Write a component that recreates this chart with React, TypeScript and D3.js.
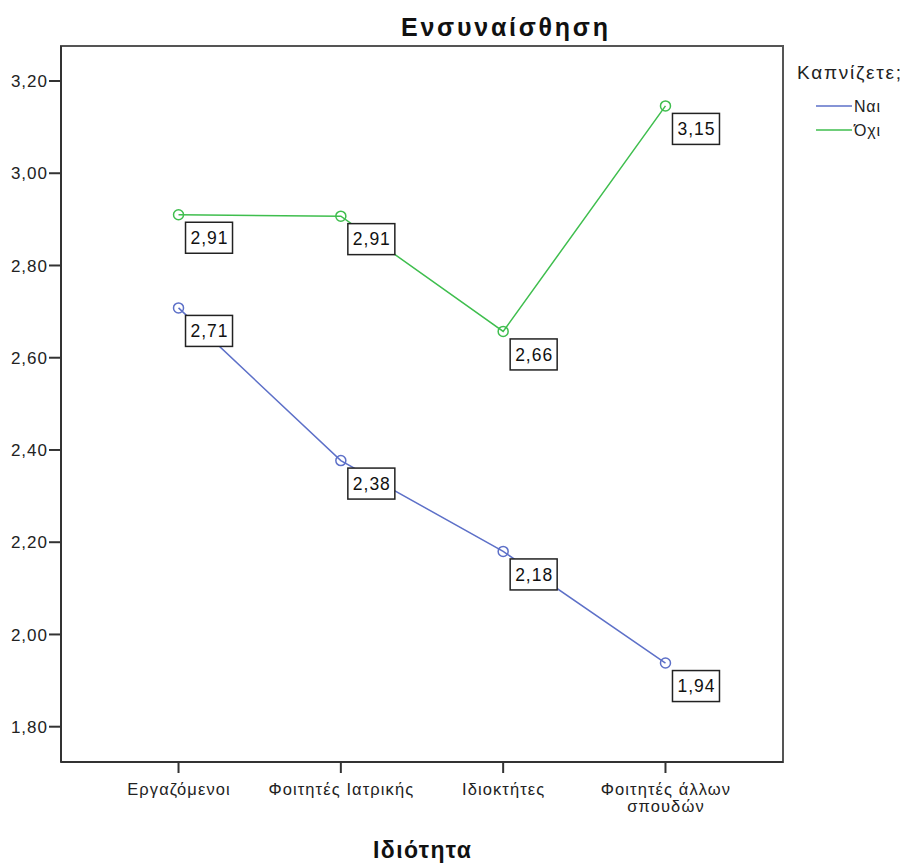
import React from "react";
import * as d3 from "d3";

const categories = ["Εργαζόμενοι", "Φοιτητές Ιατρικής", "Ιδιοκτήτες", "Φοιτητές άλλων σπουδών"];
const categoryLines = [["Εργαζόμενοι"], ["Φοιτητές Ιατρικής"], ["Ιδιοκτήτες"], ["Φοιτητές άλλων", "σπουδών"]];
const seriesNames = ["Ναι", "Όχι"];
const naiValues = [2.708, 2.377, 2.18, 1.938];
const oxiValues = [2.91, 2.907, 2.657, 3.146];
const yTicks = [1.8, 2.0, 2.2, 2.4, 2.6, 2.8, 3.0, 3.2];
const colors = ["#5d70c8", "#3fbe4e"];
const title = "Ενσυναίσθηση";
const xTitle = "Ιδιότητα";
const legendTitle = "Καπνίζετε;";

const W = 904;
const H = 863;
const left = 61;
const right = 783;
const top = 46;
const bottom = 762;
const font = "'Liberation Sans', Arial, sans-serif";

const fmt = (v: number) => v.toFixed(2).replace(".", ",");

export default function App() {
  const x = d3.scalePoint<string>().domain(categories).range([left, right]).padding(0.724);
  const y = d3.scaleLinear().domain([1.8, 3.2]).range([726.7, 81]);
  const series = [naiValues, oxiValues];
  const line = d3
    .line<number>()
    .x((_, i) => x(categories[i]) as number)
    .y((d) => y(d));

  return (
    <div style={{ position: "absolute", left: 0, top: 0 }}>
      <svg width={W} height={H} style={{ display: "block", background: "#fff" }}>
        <rect x={0} y={0} width={W} height={H} fill="#fff" />
        <text
          x={401}
          y={36}
          textLength={207}
          lengthAdjust="spacing"
          fontFamily={font}
          fontWeight="bold"
          fontSize={25}
          fill="#111"
        >
          {title}
        </text>
        {/* frame */}
        <rect x={left} y={top} width={right - left} height={bottom - top} fill="none" stroke="#555" strokeWidth={2} />
        <line x1={left} y1={top} x2={left} y2={bottom} stroke="#333" strokeWidth={2} />
        <line x1={left} y1={bottom} x2={right} y2={bottom} stroke="#333" strokeWidth={2} />
        {/* y ticks */}
        {yTicks.map((t) => (
          <g key={t}>
            <line x1={left - 12} x2={left} y1={y(t)} y2={y(t)} stroke="#333" strokeWidth={2} />
            <text
              x={left - 13}
              y={y(t)}
              dy="0.36em"
              textAnchor="end"
              fontFamily={font}
              fontSize={17}
              letterSpacing={1}
              fill="#222"
            >
              {fmt(t)}
            </text>
          </g>
        ))}
        {/* x ticks */}
        {categories.map((c, i) => (
          <g key={c}>
            <line x1={x(c)} x2={x(c)} y1={bottom} y2={bottom + 11} stroke="#333" strokeWidth={2} />
            {categoryLines[i].map((ln, j) => (
              <text
                key={j}
                x={(x(c) as number) + 0.5}
                y={795 + j * 17}
                textAnchor="middle"
                fontFamily={font}
                fontSize={16.5}
                letterSpacing={1.1}
                fill="#222"
              >
                {ln}
              </text>
            ))}
          </g>
        ))}
        <text
          x={373}
          y={858}
          textLength={98}
          lengthAdjust="spacing"
          fontFamily={font}
          fontWeight="bold"
          fontSize={23}
          fill="#111"
        >
          {xTitle}
        </text>
        {/* lines */}
        {series.map((vals, si) => (
          <g key={si}>
            <path d={line(vals) || ""} fill="none" stroke={colors[si]} strokeWidth={1.5} />
            {vals.map((v, i) => (
              <circle key={i} cx={x(categories[i])} cy={y(v)} r={5} fill="none" stroke={colors[si]} strokeWidth={1.5} />
            ))}
          </g>
        ))}
        {/* value labels */}
        {series.map((vals, si) =>
          vals.map((v, i) => {
            const px = x(categories[i]) as number;
            const py = y(v);
            return (
              <g key={`${si}-${i}`}>
                <rect x={px + 7} y={py + 7.5} width={47} height={31} fill="#fff" stroke="#222" strokeWidth={1.5} />
                <text
                  x={px + 31}
                  y={py + 23}
                  dy="0.36em"
                  textAnchor="middle"
                  fontFamily={font}
                  fontSize={17.5}
                  letterSpacing={1}
                  fill="#111"
                >
                  {fmt(v)}
                </text>
              </g>
            );
          })
        )}
        {/* legend */}
        <text x={797} y={79} textLength={104} lengthAdjust="spacing" fontFamily={font} fontSize={19} fill="#222">
          {legendTitle}
        </text>
        {seriesNames.map((n, i) => (
          <g key={n}>
            <line x1={816} x2={852} y1={106 + i * 24} y2={106 + i * 24} stroke={colors[i]} strokeWidth={1.5} />
            <text
              x={854}
              y={106 + i * 24}
              dy="0.36em"
              fontFamily={font}
              fontSize={16}
              letterSpacing={0.8}
              fill="#222"
            >
              {n}
            </text>
          </g>
        ))}
      </svg>
    </div>
  );
}
